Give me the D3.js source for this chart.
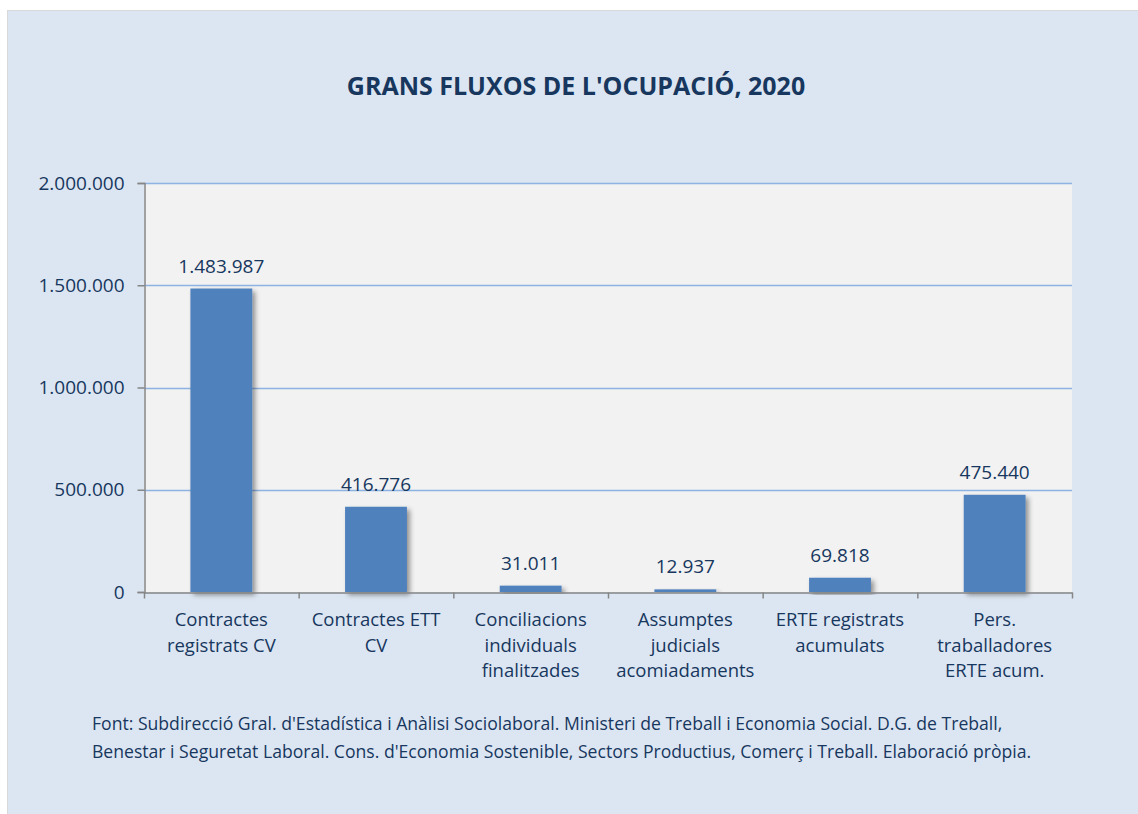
<!DOCTYPE html>
<html lang="ca">
<head>
    <meta charset="UTF-8">
    <title>Grans fluxos de l'ocupació, 2020</title>
    <script src="https://d3js.org/d3.v7.min.js"></script>
    <style>
        body { margin: 0; background: #ffffff; }
        text { font-family: "Open Sans", "Noto Sans", sans-serif; fill: #17375e; }
        .title { font-size: 25px; font-weight: bold; }
        .tick-label { font-size: 19px; }
        .bar-label { font-size: 19px; }
        .cat-label { font-size: 18.5px; }
        .source { font-size: 17.6px; }
    </style>
</head>
<body>
    <div id="chart"></div>
    <script>
        // Data
        const categories = [
            ["Contractes", "registrats CV"],
            ["Contractes ETT", "CV"],
            ["Conciliacions", "individuals", "finalitzades"],
            ["Assumptes", "judicials", "acomiadaments"],
            ["ERTE registrats", "acumulats"],
            ["Pers.", "traballadores", "ERTE acum."]
        ];
        const values = [1483987, 416776, 31011, 12937, 69818, 475440];
        const yTicks = [0, 500000, 1000000, 1500000, 2000000];
        const sourceLines = [
            "Font: Subdirecció Gral. d'Estadística i Anàlisi Sociolaboral. Ministeri de Treball i Economia Social. D.G. de Treball,",
            "Benestar i Seguretat Laboral. Cons. d'Economia Sostenible, Sectors Productius, Comerç i Treball. Elaboració pròpia."
        ];

        const W = 1138, H = 814;
        const plot = { left: 144, top: 183, right: 1072, bottom: 592 };
        const fmt = d3.formatLocale({ decimal: ",", thousands: ".", grouping: [3], currency: ["", "€"] }).format(",d");

        const svg = d3.select("#chart").append("svg").attr("width", W).attr("height", H);

        const defs = svg.append("defs");
        const shadow = defs.append("filter").attr("id", "shadow").attr("x", "-20%").attr("y", "-20%").attr("width", "160%").attr("height", "140%");
        shadow.append("feDropShadow").attr("dx", 3).attr("dy", 3).attr("stdDeviation", 2.5)
            .attr("flood-color", "#000").attr("flood-opacity", 0.4);

        // chart area background and frame
        svg.append("rect").attr("x", 7.5).attr("y", 10.5).attr("width", W).attr("height", H)
            .attr("fill", "#dce6f2").attr("stroke", "#d9d9d9");

        svg.append("text").attr("class", "title").attr("x", 576).attr("y", 95)
            .attr("text-anchor", "middle").text("GRANS FLUXOS DE L'OCUPACIÓ, 2020");

        svg.append("rect").attr("x", plot.left).attr("y", plot.top)
            .attr("width", plot.right - plot.left).attr("height", plot.bottom - plot.top)
            .attr("fill", "#f2f2f2");

        const x = d3.scaleBand().domain(d3.range(values.length)).range([plot.left, plot.right]).paddingInner(0.6).paddingOuter(0.3);
        const xBand = d3.scaleBand().domain(d3.range(values.length)).range([plot.left, plot.right]);
        const y = d3.scaleLinear().domain([0, 2000000]).range([plot.bottom, plot.top]);

        // gridlines
        svg.append("g").selectAll("line").data(yTicks.filter(d => d > 0)).enter().append("line")
            .attr("x1", plot.left).attr("x2", plot.right)
            .attr("y1", d => Math.round(y(d)) + 0.5).attr("y2", d => Math.round(y(d)) + 0.5)
            .attr("stroke", "#8db3e2").attr("stroke-width", 1.5);

        // y axis
        const yAxis = svg.append("g").attr("transform", `translate(${plot.left + 0.5},0)`)
            .call(d3.axisLeft(y).tickValues(yTicks).tickFormat(fmt).tickSize(7).tickPadding(13));
        yAxis.select(".domain").attr("stroke", "#868686").attr("stroke-width", 1.5);
        yAxis.selectAll(".tick line").attr("stroke", "#868686").attr("stroke-width", 1.5);
        yAxis.selectAll(".tick text").attr("class", "tick-label").attr("fill", "#17375e").attr("font-size", null).attr("font-family", null);

        // bars
        svg.append("g").selectAll("rect").data(values).enter().append("rect")
            .attr("x", (d, i) => x(i))
            .attr("y", d => y(d))
            .attr("width", x.bandwidth())
            .attr("height", d => plot.bottom - y(d))
            .attr("fill", "#4f81bd")
            .attr("filter", "url(#shadow)");

        // x axis
        const xAxisScale = d3.scaleLinear().domain([0, values.length]).range([plot.left, plot.right]);
        const xAxis = svg.append("g").attr("transform", `translate(0,${plot.bottom + 0.5})`)
            .call(d3.axisBottom(xAxisScale).tickValues(d3.range(values.length + 1)).tickFormat("").tickSize(6).tickSizeOuter(0));
        xAxis.select(".domain").attr("stroke", "#868686").attr("stroke-width", 1.5);
        xAxis.selectAll(".tick line").attr("stroke", "#868686").attr("stroke-width", 1.5);

        // value labels
        svg.append("g").selectAll("text").data(values).enter().append("text")
            .attr("class", "bar-label")
            .attr("x", (d, i) => x(i) + x.bandwidth() / 2)
            .attr("y", d => y(d) - 16)
            .attr("text-anchor", "middle")
            .text(d => fmt(d));

        // category labels
        const cats = svg.append("g").selectAll("text").data(categories).enter().append("text")
            .attr("class", "cat-label")
            .attr("text-anchor", "middle")
            .attr("x", (d, i) => xBand(i) + xBand.bandwidth() / 2)
            .attr("y", 626);
        cats.selectAll("tspan").data(d => d).enter().append("tspan")
            .attr("x", function () { return d3.select(this.parentNode).attr("x"); })
            .attr("dy", (d, i) => i === 0 ? 0 : 25.5)
            .text(d => d);

        // source
        svg.append("g").selectAll("text").data(sourceLines).enter().append("text")
            .attr("class", "source")
            .attr("x", 92)
            .attr("y", (d, i) => 730 + i * 28)
            .text(d => d);
    </script>
</body>
</html>
